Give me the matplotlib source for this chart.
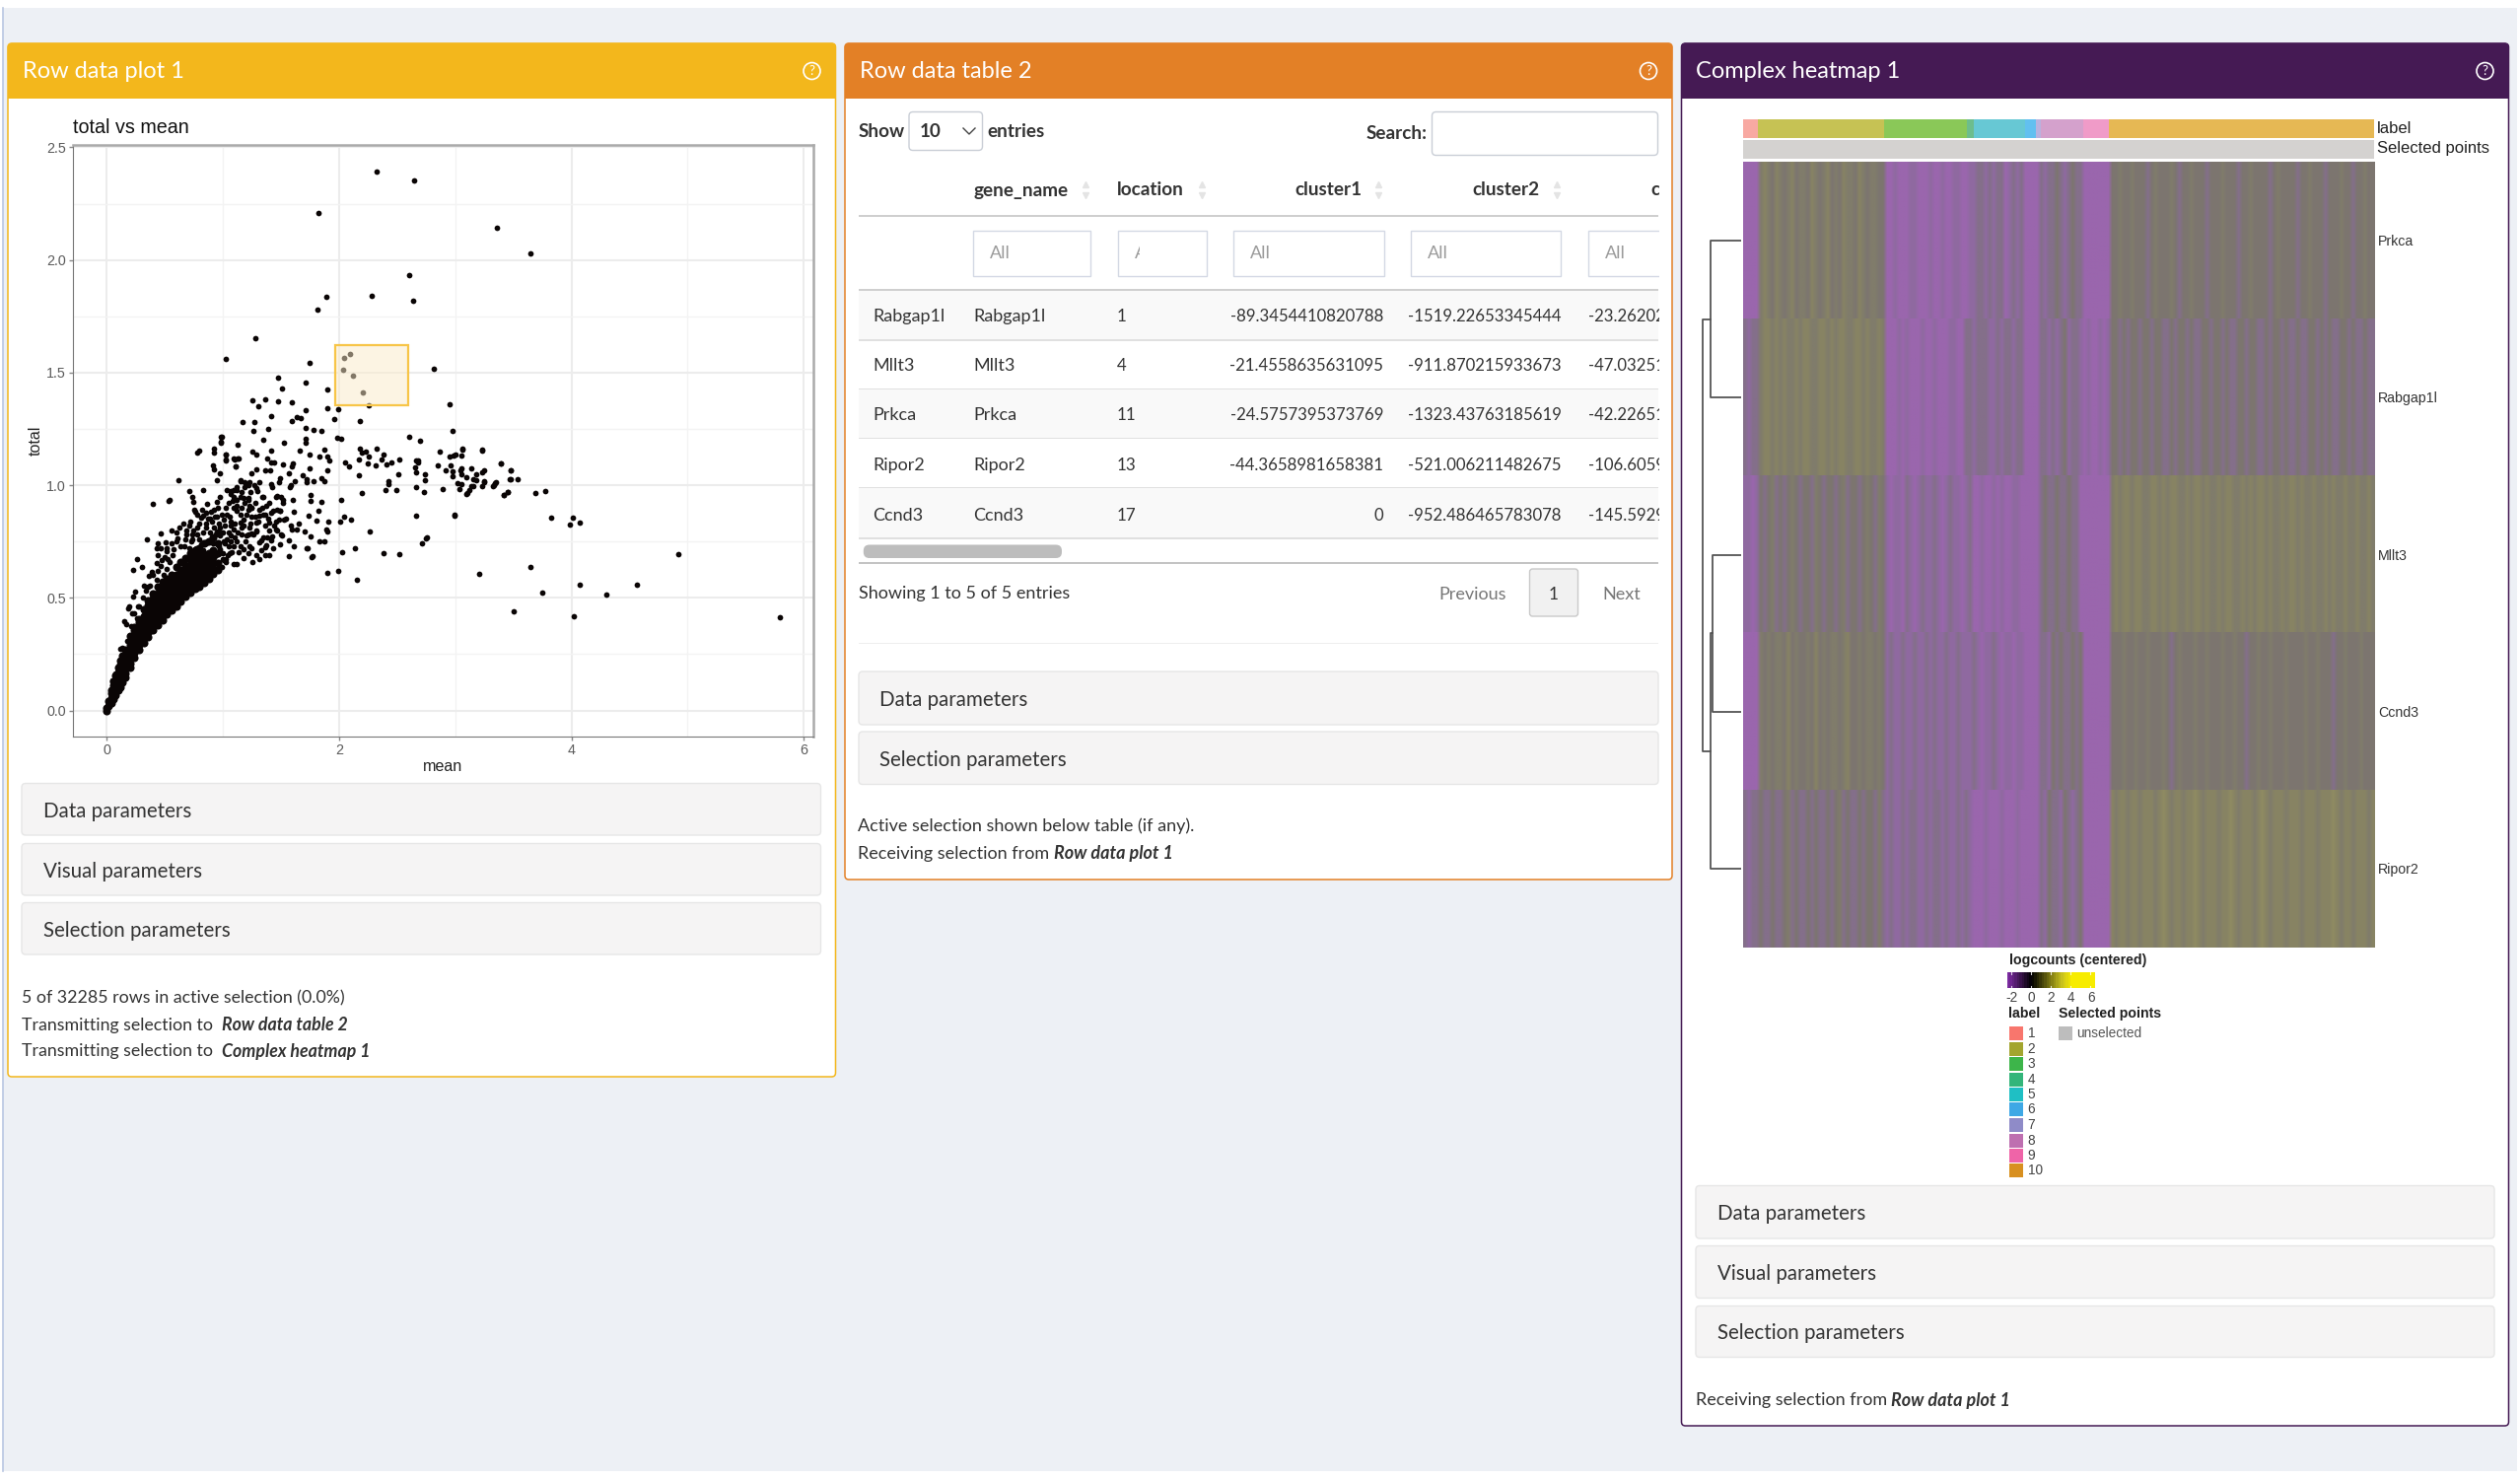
import numpy as np
import matplotlib
matplotlib.use("Agg")
from matplotlib import pyplot as plt
from matplotlib.patches import FancyBboxPatch, Rectangle, Circle
from matplotlib.colors import LinearSegmentedColormap

W, H = 2556, 1502
UI = 'Lato'
PL = 'Liberation Sans'

# scatter values: (mean, total)
sparse_points = [
    (1.285,1.652),(1.023,1.561),(1.746,1.544),(2.816,1.519),(1.472,1.478),(1.712,1.455),(1.511,1.431),(1.901,1.423),
    (1.257,1.377),(1.364,1.383),(1.305,1.351),(1.475,1.372),(1.593,1.367),(1.712,1.335),(1.901,1.344),(1.992,1.338),
    (2.257,1.354),(2.955,1.358),(1.421,1.306),(1.172,1.280),(1.274,1.281),(1.593,1.287),(1.641,1.303),(1.669,1.296),
    (1.963,1.294),(2.184,1.285),(1.260,1.243),(1.395,1.249),(1.712,1.256),(1.785,1.247),(1.853,1.242),(2.975,1.239),
    (0.989,1.214),(0.986,1.191),(1.127,1.180),(1.350,1.201),(1.528,1.189),(1.715,1.204),(1.715,1.189),(1.989,1.212),
    (2.023,1.204),(2.602,1.215),(2.698,1.198),(2.181,1.164),(2.195,1.147),(2.229,1.148),(2.325,1.164),(2.384,1.136),
    (2.260,1.126),(2.169,1.115),(2.364,1.115),(2.520,1.116),(2.246,1.097),(2.319,1.088),(2.407,1.094),(2.455,1.100),
    (2.054,1.099),(2.090,1.085),(2.175,1.046),(2.511,1.049),(2.427,1.018),(2.424,1.005),(2.198,0.966),(2.398,0.977),
    (2.494,0.977),(2.661,0.993),(2.734,0.970),(2.667,1.112),(2.681,1.112),(2.684,1.100),(2.658,1.077),(2.667,1.058),
    (2.743,1.050),(2.740,1.024),(2.870,1.148),(2.949,1.129),(2.986,1.131),(3.006,1.134),(3.056,1.131),(3.065,1.160),
    (3.229,1.155),(2.850,1.090),(2.960,1.090),(2.915,1.064),(2.980,1.062),(2.977,1.040),(3.051,1.074),(3.048,1.064),
    (3.056,1.050),(3.141,1.074),(3.093,1.036),(3.184,1.050),(3.246,1.068),(3.229,1.056),(3.155,1.026),(3.178,1.023),
    (3.249,1.015),(3.023,1.011),(3.056,1.004),(3.141,0.995),(3.121,0.979),(3.099,0.960),(3.037,0.985),(3.234,0.995),
    (2.895,0.985),(3.336,1.001),(3.347,1.015),(3.393,1.097),(3.480,1.066),(3.472,1.027),(3.534,1.028),(3.418,0.955),
    (3.455,0.970),(2.023,0.934),(2.667,0.865),(2.992,0.866),(2.042,0.861),(2.011,0.837),(2.105,0.849),(2.263,0.796),
    (2.749,0.766),(2.715,0.741),(2.760,0.769),(2.141,0.722),(2.028,0.701),(2.381,0.700),(2.517,0.694),
    (1.025,1.138),(1.025,1.113),(1.099,1.116),(1.136,1.119),(1.113,1.082),(1.257,1.148),(1.288,1.134),(1.421,1.154),
    (1.384,1.120),(1.418,1.100),(1.446,1.100),(1.517,1.091),(1.602,1.097),(1.599,1.084),(1.661,1.155),(1.751,1.136),
    (1.873,1.160),(1.836,1.129),(1.898,1.129),(1.918,1.109),(1.288,1.072),(1.246,1.052),(1.362,1.066),(1.410,1.066),
    (1.568,1.053),(1.749,1.075),(1.898,1.066),(1.686,1.045),(1.489,1.030),(1.486,1.012),(1.624,1.020),(1.718,1.027),
    (1.726,1.015),(1.782,1.018),(1.850,1.030),(1.873,1.020),(1.155,1.024),(1.192,1.012),(1.234,1.012),(1.311,1.012),
    (1.418,1.005),(1.427,0.992),(1.579,0.991),(1.588,0.999),(1.297,0.976),(1.342,0.950),(1.466,0.954),(1.503,0.947),
    (1.517,0.936),(1.602,0.935),(1.757,0.955),(1.754,0.931),(1.847,0.925),(1.610,0.881),(1.740,0.864),(1.825,0.888),
    (1.805,0.843),(1.912,0.840),(1.653,0.828),(1.590,0.823),(1.596,0.802),(1.636,0.802),(1.703,0.793),(1.757,0.771),
    (1.893,0.805),(1.904,0.795),(1.831,0.750),(1.879,0.750),(1.573,0.754),(1.616,0.729),(1.723,0.720),(1.568,0.685),
    (1.766,0.682),(1.489,0.738),(1.432,0.722),(1.506,0.779),(1.469,0.798),(1.404,0.798),(1.540,0.852),(1.455,0.840),
    (1.483,0.849),(1.497,0.885),(1.469,0.893),(1.404,0.922),(1.376,0.910),(1.418,0.878),(1.362,0.871),(1.319,0.864),
    (1.291,0.793),(1.333,0.754),(1.376,0.732),(1.418,0.754),(1.249,0.784),(1.206,0.776),(1.249,0.900),(1.220,0.936),
    (1.178,0.944),(1.121,0.980),(1.065,0.973),(1.037,0.980),(0.980,1.053),(0.952,1.024),
    (1.904,0.609),(1.994,0.620),(2.153,0.582),(1.777,0.683),(1.729,0.720),(1.404,0.691),(1.362,0.688),(1.314,0.670),
    (1.257,0.658),(1.178,0.677),(1.121,0.651),(1.093,0.648),(0.994,0.636),(1.011,0.666),(1.079,0.702),(1.136,0.702),
    (1.234,0.731),(1.220,0.699),(1.319,0.746),(1.362,0.724),(1.427,0.772),(1.291,0.797),(1.347,0.768),(1.263,0.782),
    (1.460,0.804),(1.503,0.782),(1.531,0.848),(1.404,0.834),(1.347,0.870),(1.432,0.885),(1.489,0.885),(1.517,0.921),
    (1.460,0.950),(1.347,0.950),(1.249,0.899),(1.164,0.899),(1.206,0.870),(1.121,0.936),(1.093,0.980),(1.150,0.834),
    (1.178,0.819),(1.093,0.804),(1.065,0.775),(1.008,0.753),(0.952,0.928),(0.867,0.918),(0.760,0.883),(0.833,0.863),
    (0.924,0.892),(0.924,1.162),(0.929,1.147),(0.986,1.213),(0.986,1.187),(0.782,1.147),(0.794,1.152),(1.028,1.137),
    (1.028,1.111),(1.093,1.118),(1.130,1.118),(0.918,1.089),(0.924,1.070),(1.113,1.085),(0.621,1.023),(0.712,0.975),
    (0.833,0.980),(0.740,0.947),(0.749,0.924),(0.534,0.930),(0.542,0.933),(0.398,0.917),(0.466,0.784),(0.347,0.758),
    (0.438,0.743),(0.506,0.746),(0.613,0.766),(0.429,0.721),(0.514,0.709),(0.579,0.717),(0.266,0.670),(0.232,0.626),
    (0.302,0.636),(0.429,0.655),(0.477,0.666),(0.528,0.673),(0.387,0.615),(0.364,0.597),(0.325,0.556),(0.514,0.629),
    (0.494,0.600),(0.432,0.578),(0.373,0.556),(0.246,0.527),(0.232,0.505),(0.359,0.483),(0.195,0.460),(0.184,0.454),
    (0.280,0.461),(0.218,0.432),(0.260,0.410),(0.153,0.396),(0.169,0.385),(0.212,0.374),(0.175,0.308),(0.133,0.276),
    (0.121,0.273),(0.048,0.133),(0.076,0.162),
    (0.712,0.819),(0.782,0.812),(0.853,0.812),(0.924,0.812),(0.980,0.812),(0.684,0.782),(0.740,0.782),(0.669,0.731),
    (0.726,0.753),(0.811,0.739),(0.867,0.753),(0.980,0.775),(1.037,0.761),(1.051,0.731),(0.754,0.892),(0.811,0.855),
    (0.895,0.851),(0.952,0.860),(1.008,0.848),(0.853,0.877),(1.065,0.819),(1.037,0.870),(1.093,0.899),(1.051,0.921),
    (1.121,0.885),(1.178,0.848),(1.234,0.812),(1.291,0.834),(1.220,0.782),(1.362,0.819),(1.150,0.950),(1.220,0.943),
    (1.093,0.950),(1.150,1.016),(1.220,1.001),(1.291,0.987),(1.234,0.907),(1.319,0.892),(0.910,0.702),(1.023,0.673),
    (0.980,0.717),(1.093,0.731),(1.178,0.717),(1.121,0.753),
    (2.321,2.393),(2.648,2.352),(1.827,2.209),(3.358,2.142),(3.648,2.029),(2.606,1.934),(1.888,1.835),(2.285,1.841),
    (2.639,1.820),(1.812,1.781),
    (4.921,0.693),(5.795,0.412),(4.563,0.560),(4.298,0.514),(4.074,0.560),(4.023,0.418),(3.749,0.523),(3.647,0.636),
    (3.502,0.438),(3.209,0.608),(3.828,0.854),(4.014,0.854),(3.986,0.825),(4.070,0.834),(3.688,0.967),(3.777,0.973),
    (3.474,1.026),(3.474,1.065),(3.391,1.098),(3.451,0.971),(3.419,0.956),(2.991,0.867),(3.340,1.008),(3.326,0.998),
    (3.060,1.161),(3.228,1.156),(3.102,0.965),(3.153,0.997),(3.247,1.019),
]
# thicker part of the cloud, around mean 0.3 to 1.4
cloud_points = [
    (0.56,0.80),(0.60,0.79),(0.63,0.81),(0.66,0.83),(0.69,0.80),(0.72,0.84),(0.75,0.80),(0.78,0.78),(0.80,0.83),(0.83,0.79),
    (0.86,0.83),(0.89,0.79),(0.91,0.84),(0.94,0.78),(0.97,0.83),(1.00,0.79),(1.02,0.82),(1.05,0.79),(1.07,0.84),(1.10,0.83),
    (0.60,0.75),(0.64,0.73),(0.68,0.76),(0.71,0.72),(0.74,0.76),(0.77,0.72),(0.80,0.76),(0.83,0.71),(0.86,0.74),(0.89,0.70),
    (0.92,0.74),(0.94,0.69),(0.97,0.73),(1.00,0.70),(1.02,0.74),(1.04,0.69),(1.07,0.75),(1.10,0.77),(1.13,0.79),(1.16,0.78),
    (0.44,0.62),(0.47,0.64),(0.54,0.66),(0.57,0.69),(0.50,0.68),(0.36,0.55),(0.31,0.50),(0.27,0.46),(0.24,0.43),(0.40,0.60),
    (0.34,0.53),(0.44,0.69),(0.52,0.72),(0.56,0.74),(0.47,0.72),
    (0.78,0.87),(0.82,0.89),(0.87,0.85),(0.90,0.88),(0.93,0.86),(0.96,0.90),(0.99,0.87),(1.03,0.90),(1.06,0.86),(1.09,0.93),
    (1.12,0.91),(1.15,0.87),(1.19,0.92),(1.22,0.89),(1.25,0.86),(1.28,0.92),(1.31,0.84),(1.34,0.90),(1.07,0.96),(1.16,0.97),
    (1.19,0.99),(1.24,0.97),(1.12,0.99),(1.27,1.00),(0.98,0.95),
    (1.00,0.67),(1.03,0.66),(1.06,0.70),(1.15,0.73),(1.20,0.75),(1.25,0.72),(1.29,0.69),(1.33,0.71),(1.38,0.77),(1.24,0.83),
    (1.16,0.81),(1.28,0.86),(1.39,0.85),(1.44,0.82),
]
# the solid black part of the cloud, by mean
band_means = [0.0,0.02,0.04,0.06,0.08,0.10,0.12,0.14,0.16,0.20,0.24,0.28,0.32,0.36,0.40,0.44,0.48,
              0.52,0.56,0.60,0.64,0.68,0.72,0.76,0.80,0.84,0.88,0.92,0.96]
band_totals = [
    [0.0,0.01],[0.02,0.04],[.035,.055,.075,.09],[.05,.07,.09,.11,.13],[.07,.09,.11,.13,.155],
    [.09,.11,.13,.15,.17,.19],[.105,.125,.145,.165,.185,.205,.22],[.125,.145,.165,.185,.205,.225,.245],
    [.145,.165,.185,.205,.225,.245,.27],[.19,.21,.23,.25,.27,.29,.31,.33],[.235,.255,.275,.295,.315,.335,.355,.37],
    [.27,.29,.31,.33,.35,.37,.39,.405],[.30,.32,.34,.36,.38,.40,.42,.45],[.325,.345,.365,.385,.405,.425,.445,.465,.49],
    [.355,.375,.395,.415,.435,.455,.475,.495,.52],[.38,.40,.42,.44,.46,.48,.50,.52,.55],
    [.40,.42,.44,.46,.48,.50,.52,.54,.57],[.425,.445,.465,.485,.505,.525,.545,.565,.585],
    [.445,.465,.485,.505,.525,.545,.565,.585,.60],[.46,.48,.50,.52,.54,.56,.58,.60,.635],
    [.485,.505,.525,.545,.565,.585,.605,.625,.66],[.505,.525,.545,.565,.585,.605,.625,.645,.675],
    [.525,.545,.565,.585,.605,.625,.645,.67,.70],[.54,.56,.58,.60,.62,.64,.66,.69,.71],
    [.55,.57,.59,.61,.63,.65,.67,.695,.72],[.565,.585,.605,.625,.645,.67,.695,.74],
    [.585,.605,.625,.65,.675,.70,.75],[.605,.63,.655,.68,.71,.77],[.625,.655,.70,.74,.79],
]
selected_mean = [2.097, 2.048, 2.033, 2.124, 2.206]
selected_total = [1.584, 1.564, 1.512, 1.486, 1.410]
brush_x = [1.970, 2.597]
brush_y = [1.355, 1.622]

# table
row_names = ['Rabgap1l', 'Mllt3', 'Prkca', 'Ripor2', 'Ccnd3']
locations = ['1', '4', '11', '13', '17']
cluster1 = ['-89.3454410820788', '-21.4558635631095', '-24.5757395373769', '-44.3658981658381', '0']
cluster2 = ['-1519.22653345444', '-911.870215933673', '-1323.43763185619', '-521.006211482675', '-952.486465783078']
cluster3 = ['-23.26202', '-47.03251', '-42.22651', '-106.6059', '-145.5929']

# heatmap, one shade level per column bin (0 purple ... 6 olive)
heat_genes = ['Prkca', 'Rabgap1l', 'Mllt3', 'Ccnd3', 'Ripor2']
prkca = [0,0,0,0,4,5,4,3,5,4,3,4,5,3,4,4,3,5,4,3,
         4,5,3,4,3,5,4,4,3,5,4,3,4,4,3,3,0,0,1,0,
         0,0,1,1,0,0,0,1,0,0,1,0,0,1,1,0,0,1,1,2,
         2,1,2,1,2,2,0,1,2,1,2,0,0,0,0,2,1,2,2,3,
         2,1,2,3,2,2,0,0,0,0,0,0,0,3,3,4,3,3,4,3,
         3,3,2,3,4,3,3,3,4,3,2,3,3,4,3,3,3,2,3,3,
         3,4,3,3,3,2,3,3,4,3,3,3,3,2,3,4,3,3,3,3,
         2,3,3,4,3,3,3,2,3,3,3,4,3,3,2,3,3,4,3,3]
rabgap1l = [2,1,2,2,4,5,5,4,5,4,5,4,4,5,4,5,5,4,4,5,
            5,4,5,4,5,5,4,4,5,5,4,5,4,4,5,4,0,0,0,1,
            0,1,0,0,0,1,0,0,1,0,0,0,1,1,0,0,2,2,1,2,
            2,2,1,1,2,1,2,2,1,2,2,0,0,0,0,2,2,1,2,1,
            2,3,1,2,2,1,0,1,0,0,1,0,1,3,3,2,3,2,3,3,
            2,3,3,2,3,3,2,2,3,2,3,3,2,3,2,2,3,3,2,3,
            3,2,3,2,2,3,3,2,3,3,2,2,3,2,3,3,2,3,2,2,
            3,2,2,3,3,2,3,2,3,2,2,3,3,2,3,2,2,3,2,2]
mllt3 = [1,1,0,1,3,2,3,4,2,3,2,3,4,3,2,3,3,2,4,3,
         2,3,3,2,3,4,2,3,3,2,3,4,3,2,4,3,1,0,1,1,
         0,2,1,0,1,2,1,1,2,1,0,1,2,1,1,0,1,2,0,0,
         1,0,0,1,0,1,0,0,1,1,0,0,0,0,0,2,3,2,2,3,
         2,2,3,2,2,0,0,0,0,0,0,0,0,4,5,4,5,5,4,5,
         5,4,4,5,5,4,5,4,5,5,4,4,5,4,5,5,4,5,4,4,
         5,4,5,5,4,4,5,4,5,4,5,5,4,5,4,4,5,4,5,5,
         4,5,4,4,5,4,4,5,4,5,4,4,5,4,4,5,4,4,5,4]
ccnd3 = [0,0,0,0,4,3,4,3,4,4,3,5,3,4,3,3,4,3,5,3,
         4,3,4,4,3,4,5,3,3,4,3,4,4,3,4,3,1,2,1,1,
         2,1,1,2,1,1,2,1,2,1,1,2,1,1,2,1,1,1,2,1,
         0,1,1,2,1,0,1,1,0,1,1,0,0,0,0,2,2,1,3,2,
         3,2,2,3,2,3,0,0,0,0,0,0,0,3,3,3,4,3,3,4,
         3,3,4,3,3,3,4,3,2,3,4,3,3,3,4,3,3,4,3,3,
         3,4,3,3,4,3,3,2,3,3,4,3,3,4,3,3,3,4,3,3,
         3,3,4,3,3,4,3,3,3,2,3,3,4,3,3,3,4,3,3,3]
ripor2 = [2,1,2,2,3,2,2,3,2,2,3,4,2,3,2,2,3,2,3,2,
          2,3,2,3,4,2,3,2,2,3,2,3,3,2,4,2,1,2,1,1,
          2,1,2,2,1,1,2,1,2,2,1,2,1,1,2,1,2,1,0,0,
          0,1,0,0,0,1,0,0,0,1,0,0,0,0,0,2,1,3,2,2,
          1,3,2,1,2,3,0,0,0,0,0,0,0,5,4,5,5,4,5,5,
          4,5,5,5,4,5,6,5,4,5,5,4,5,5,6,5,4,5,5,5,
          4,5,5,6,5,4,5,5,5,4,5,6,5,4,5,5,5,4,5,5,
          5,4,5,5,5,4,5,5,5,6,5,4,5,5,4,5,5,5,4,5]
shades = ['#9a66ad', '#8f6aa0', '#846f8a', '#7c7570', '#807c6b', '#878364', '#8f8b62']

# cluster annotation: share of cells per cluster
cluster_labels = ['1', '2', '3', '4', '5', '6', '7', '8', '9', '10']
cluster_cells = [15.8, 127.8, 84, 6.4, 52, 11, 5, 43.5, 26.2, 268.6]
cluster_bar_colors = ['#f8a9a2', '#c6c254', '#8ac858', '#6dbd8d', '#67c8d4', '#62c0f0', '#b9b2de', '#d4a1cc', '#f09bc8', '#e6b854']
cluster_key_colors = ['#f8766d', '#a3a52f', '#3db54a', '#33b57a', '#1fbfc4', '#3ea8e5', '#8f8bc8', '#be6fb0', '#ef64a8', '#d89020']
# dendrogram merge heights
merge_heights = [31.4, 29, 31, 39]
cbar_ticks = [-2, 0, 2, 4, 6]

fig = plt.figure(figsize=(W / 100, H / 100), dpi=100, facecolor='white')

def px_axes(l, t, r, b, **kw):
    return fig.add_axes([l / W, 1 - b / H, (r - l) / W, (b - t) / H], **kw)

bg = px_axes(0, 0, W, H)
bg.set_xlim(0, W)
bg.set_ylim(H, 0)
bg.axis('off')

def box(l, t, r, b, fc, ec='none', lw=1, rad=0, z=1):
    if rad:
        p = FancyBboxPatch((l, t), r - l, b - t, boxstyle='round,pad=0,rounding_size=%g' % rad,
                           fc=fc, ec=ec, lw=lw, zorder=z)
    else:
        p = Rectangle((l, t), r - l, b - t, fc=fc, ec=ec, lw=lw, zorder=z)
    bg.add_patch(p)

def txt(x, y, s, size=12.8, color='#333333', ha='left', family=UI, z=5, **kw):
    if family == UI:
        y = y + 1.5
    bg.text(x, y, s, fontsize=size, color=color, ha=ha, va='center', family=family, zorder=z, **kw)

def panel(l, t, r, b, color, title):
    box(l, t, r, b, 'white', color, 1.1, 4, 1)
    box(l, t, r, t + 20, color, color, 0.5, 4, 2)
    box(l, t + 10, r, 99.5, color, z=2)
    txt(l + 15, 71, title, size=17, color='white', z=3)
    icon_x = r - 24
    bg.add_patch(Circle((icon_x, 72), 8.5, fc='none', ec='white', lw=1.2, zorder=3))
    txt(icon_x, 71, '?', size=9.5, color='white', ha='center', z=3)

def accordion(l, r, tops, bots, names, tx):
    for t, b, s in zip(tops, bots, names):
        box(l, t, r, b, '#f5f4f4', '#e6e6e6', 1, 4, 2)
        txt(tx, (t + b) / 2 + 0.5, s, size=14.8, color='#333333')

# page
box(0, 0, W, 8, 'white')
box(3, 8, W - 3, 1492, '#edf0f5', z=0)
bg.plot([3, 3], [8, 1492], color='#b9c6e2', lw=1.2, zorder=1)

panel(8, 44, 847.5, 1092, '#f3b71c', 'Row data plot 1')
panel(857, 44, 1696, 892, '#e38026', 'Row data table 2')
panel(1705.5, 44, 2544.5, 1446, '#451a54', 'Complex heatmap 1')

three = ['Data parameters', 'Visual parameters', 'Selection parameters']
accordion(22, 832.5, [794.5, 855.5, 915.5], [847, 908, 968], three, 44)
accordion(871, 1682, [681, 742], [735, 795.5], [three[0], three[2]], 892)
accordion(1720, 2530, [1202.5, 1263.5, 1324.5], [1256, 1316.5, 1376.5], three, 1742)

txt(22, 1010.5, '5 of 32285 rows in active selection (0.0%)')
txt(22, 1038, 'Transmitting selection to ')
txt(225, 1038, 'Row data table 2', weight='bold', style='italic')
txt(22, 1065, 'Transmitting selection to ')
txt(225, 1065, 'Complex heatmap 1', weight='bold', style='italic')
txt(870.5, 836, 'Active selection shown below table (if any).', size=13)
txt(870.5, 864, 'Receiving selection from ', size=13)
txt(1069, 864, 'Row data plot 1', weight='bold', style='italic', size=13)
txt(1720, 1419, 'Receiving selection from ', size=13)
txt(1918, 1419, 'Row data plot 1', weight='bold', style='italic', size=13)

# scatter
ax = px_axes(74, 147.4, 825.5, 747, zorder=3)
ax.set_xlim(-0.288, 6.086)
ax.set_ylim(-0.116, 2.509)
ax.set_xticks([0, 2, 4, 6])
ax.set_yticks([0, 0.5, 1, 1.5, 2, 2.5])
ax.set_yticklabels(['0.0', '0.5', '1.0', '1.5', '2.0', '2.5'])
ax.set_xticks([1, 3, 5], minor=True)
ax.set_yticks([0.25, 0.75, 1.25, 1.75, 2.25], minor=True)
ax.grid(True, which='major', color='#ececec', lw=1.5, zorder=0)
ax.grid(True, which='minor', color='#f3f3f3', lw=1, zorder=0)
ax.tick_params(which='minor', length=0)
ax.tick_params(which='major', length=3, width=1, color='#888888', labelcolor='#5a5a5a', labelsize=10.3, pad=2)
for t in ax.get_xticklabels() + ax.get_yticklabels():
    t.set_family(PL)
ax.spines['top'].set_color('#aaaaaa')
ax.spines['right'].set_color('#aaaaaa')
ax.spines['top'].set_linewidth(1.8)
ax.spines['right'].set_linewidth(1.8)
ax.spines['left'].set_color('#777777')
ax.spines['bottom'].set_color('#777777')
ax.set_axisbelow(True)
for pts in [sparse_points, cloud_points]:
    ax.scatter([p[0] for p in pts], [p[1] for p in pts], s=17, c='#0a0505', lw=0, zorder=3)
for m, col in zip(band_means, band_totals):
    ax.scatter([m] * len(col), col, s=34, c='#0a0505', lw=0, zorder=3)
ax.scatter(selected_mean, selected_total, s=17, c='#0a0505', lw=0, zorder=3)
ax.add_patch(Rectangle((brush_x[0], brush_y[0]), brush_x[1] - brush_x[0], brush_y[1] - brush_y[0],
                       fc=(0.984, 0.922, 0.788, 0.5), ec='#f7c548', lw=1.6, zorder=4))
txt(74, 129.5, 'total vs mean', size=14.2, color='#111111', family=PL)
txt(449, 778, 'mean', size=11.6, color='#222222', ha='center', family=PL)
bg.text(36.5, 447, 'total', fontsize=11.6, color='#222222', ha='center', va='center', rotation=90, family=PL, zorder=5)

# table
HB = 13.6
txt(871, 132, 'Show', weight='bold', size=HB)
box(922, 113.5, 996.5, 152.5, 'white', '#c9ced6', 1, 4, 2)
txt(933, 132, '10', weight='bold', size=HB)
bg.plot([977, 983, 989], [130, 136, 130], color='#444444', lw=1, zorder=5)
txt(1001, 132, 'entries', weight='bold', size=HB)
txt(1448, 134, 'Search:', weight='bold', size=HB, ha='right')
box(1452.5, 113.5, 1681.5, 157.5, 'white', '#c9ced6', 1, 4, 2)

for x, s, ha in [(987, 'gene_name', 'left'), (1133, 'location', 'left'), (1381, 'cluster1', 'right'), (1561.5, 'cluster2', 'right'), (1674.5, 'c', 'left')]:
    txt(x, 191.5, s, weight='bold', size=HB, ha=ha)
for x in [1100.5, 1218.5, 1398, 1578.5]:
    bg.plot([x], [187], marker='^', ms=5, color='#e4e4e4', zorder=4)
    bg.plot([x], [198], marker='v', ms=5, color='#e4e4e4', zorder=4)

box(871, 217.5, 1682, 220, '#cfcfcf', z=2)
for l, r in [(987, 1105.5), (1133.5, 1223.5), (1251, 1403.5), (1431, 1583), (1611, 1690)]:
    box(l, 233.5, r, 279.5, 'white', '#d3d8e4', 1, z=2)
    txt(l + 17, 255.5, 'All' if l != 1133.5 else 'A', color='#9a9a9a', size=13)

row_tops = [293.7, 345, 394.5, 444.5, 495]
row_bots = [345, 394.5, 444.5, 495, 546]
row_mid = [319.5, 369.5, 419.5, 470.5, 521.5]
for i in range(5):
    if i % 2 == 0:
        box(871, row_tops[i], 1682, row_bots[i], '#f9f9f9', z=2)
    box(871, row_bots[i] - 0.7, 1682, row_bots[i] + 0.7, '#e0e0e0', z=2)
    txt(885, row_mid[i], row_names[i], size=13)
    txt(987, row_mid[i], row_names[i], size=13)
    txt(1133, row_mid[i], locations[i], size=12.2)
    txt(1403, row_mid[i], cluster1[i], ha='right', size=12.1)
    txt(1583.5, row_mid[i], cluster2[i], ha='right', size=12.1)
    txt(1611, row_mid[i], cluster3[i], size=12.1)
box(871, 292.5, 1682, 295, '#cfcfcf', z=2)
box(1683, 170, 1695, 560, 'white', z=6)
box(1156, 240, 1170, 272, 'white', z=6)
box(875.8, 552.5, 1077, 566, '#bdbdbd', rad=6, z=3)
box(871, 570, 1682, 571.5, '#c4c4c4', z=2)
txt(871, 600.5, 'Showing 1 to 5 of 5 entries', size=13)
txt(1459.5, 601, 'Previous', color='#777777', size=13)
box(1551.5, 577, 1600.5, 625, '#f1f1f1', '#c9c9c9', 1, 3, 2)
txt(1576, 601, '1', ha='center', size=12.5)
txt(1625, 601, 'Next', color='#777777', size=13)
box(871, 652, 1682, 653, '#eeeeee', z=2)

# heatmap
heat_l, heat_r, heat_t, heat_b = 1767.7, 2408, 164.3, 960.7
hx = px_axes(heat_l, heat_t, heat_r, heat_b, zorder=3)
shade_map = LinearSegmentedColormap.from_list('shades', shades)
for i, row in enumerate([prkca, rabgap1l, mllt3, ccnd3, ripor2]):
    hx.imshow([row], aspect='auto', cmap=shade_map, vmin=0, vmax=6, extent=[0, len(row), i + 1, i],
              interpolation='bilinear', interpolation_stage='rgba')
hx.set_xlim(0, len(prkca))
hx.set_ylim(5, 0)
hx.axis('off')

ann = px_axes(heat_l, 120.7, heat_r, 140, zorder=3)
ann.barh([0], cluster_cells, left=np.cumsum([0] + cluster_cells[:-1]), height=1, color=cluster_bar_colors, lw=0)
ann.set_xlim(0, sum(cluster_cells))
ann.set_ylim(-0.5, 0.5)
ann.axis('off')
box(heat_l, 141.7, heat_r, 160.7, '#d4d2d0', z=2)
txt(2411, 130.5, 'label', size=12, family=PL, color='#222222')
txt(2411, 151, 'Selected points', size=12, family=PL, color='#222222')
for i, g in enumerate(heat_genes):
    txt(2412, heat_t + (i + 0.5) * (heat_b - heat_t) / 5 + 1, g, size=10.2, family=PL, color='#333333')

# dendrogram, heights measured back from the heatmap edge
dn = px_axes(1720, heat_t, 1766, heat_b, zorder=3)
dn.set_xlim(46, 0)
dn.set_ylim(5, 0)
dn.axis('off')
h12, h34, h345, top = merge_heights
dc = '#555555'
dn.plot([0, h12, h12, 0], [0.5, 0.5, 1.5, 1.5], color=dc, lw=1.3)
dn.plot([0, h34, h34, 0], [2.5, 2.5, 3.5, 3.5], color=dc, lw=1.3)
dn.plot([h34, h345, h345, 0], [3, 3, 4.5, 4.5], color=dc, lw=1.3)
dn.plot([h12, top, top, h345], [1, 1, 3.75, 3.75], color=dc, lw=1.3)

# colour key
txt(2037.5, 974, 'logcounts (centered)', size=10.2, family=PL, weight='bold', color='#222222')
cb = px_axes(2036.3, 985.7, 2125.3, 1002, zorder=3)
cmap_key = LinearSegmentedColormap.from_list('key', [(0, '#7b2ba0'), (2.4 / 8.9, '#000000'), (5.6 / 8.9, '#c9c21e'), (6.6 / 8.9, '#f7ec00'), (1, '#f7ec00')])
cb.imshow(np.linspace(0, 1, 36).reshape(1, -1), aspect='auto', cmap=cmap_key, extent=[-2.4, 6.5, 0, 1], interpolation='nearest')
for v in cbar_ticks:
    cb.plot([v, v], [0, 0.15], color='white', lw=0.8, alpha=0.8)
    cb.plot([v, v], [0.85, 1], color='white', lw=0.8, alpha=0.8)
cb.set_xlim(-2.4, 6.5)
cb.set_ylim(0, 1)
cb.axis('off')
for v, x in zip(cbar_ticks, [2040.7, 2060.3, 2080, 2100.3, 2120.7]):
    txt(x, 1011.7, str(v), size=9.8, family=PL, ha='center', color='#444444')

txt(2037.5, 1028, 'label', size=10.2, family=PL, weight='bold', color='#222222')
txt(2087.7, 1028, 'Selected points', size=10.2, family=PL, weight='bold', color='#222222')
key_y = [1048.3, 1063.7, 1079, 1094.7, 1110, 1125.3, 1141, 1156.7, 1172, 1187]
for y, c, s in zip(key_y, cluster_key_colors, cluster_labels):
    box(2037.7, y - 7, 2052, y + 7, c, z=2)
    txt(2056.7, y, s, size=9.8, family=PL, color='#444444')
box(2087.7, 1041, 2101.7, 1055, '#bdbdbd', z=2)
txt(2106, 1048.3, 'unselected', size=9.8, family=PL, color='#555555')

fig.savefig('out.png', dpi=100, facecolor='white')
